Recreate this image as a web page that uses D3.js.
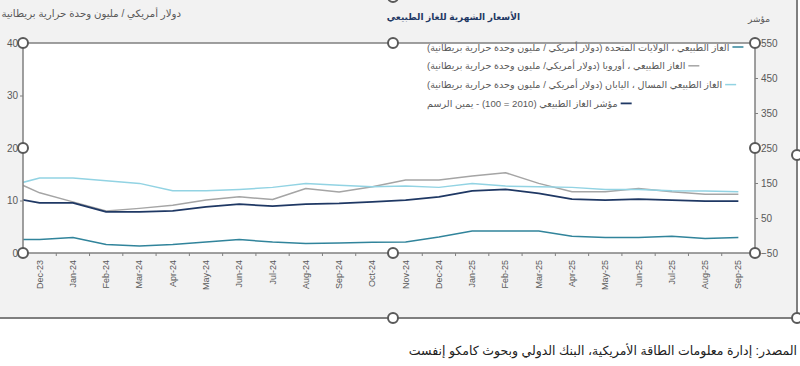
<!DOCTYPE html>
<html>
<head>
<meta charset="utf-8">
<script src="https://cdn.jsdelivr.net/npm/d3@7"></script>
<style>
  body { margin: 0; background: #fff; }
  svg { display: block; font-family: "Liberation Sans", "DejaVu Sans", sans-serif; }
</style>
</head>
<body>
<svg id="chart" width="800" height="366"></svg>
<script>
// Nov-23 only gives the line its lead-in at the left edge (label hidden, clipped)
const months = ["Nov-23", "Dec-23", "Jan-24", "Feb-24", "Mar-24", "Apr-24", "May-24", "Jun-24", "Jul-24",
  "Aug-24", "Sep-24", "Oct-24", "Nov-24", "Dec-24", "Jan-25", "Feb-25", "Mar-25", "Apr-25",
  "May-25", "Jun-25", "Jul-25", "Aug-25", "Sep-25"];
const tickLabels = months.slice(1);

const usGas = [2.56, 2.56, 2.94, 1.6, 1.34, 1.6, 2.1, 2.56, 2.1, 1.8, 1.9, 2.04, 2.1, 3.06, 4.2, 4.2, 4.2, 3.19, 2.94, 2.94, 3.19, 2.75, 2.94];
const europeGas = [14.3, 11.46, 9.74, 8.0, 8.5, 9.1, 10.1, 10.7, 10.2, 12.3, 11.6, 12.6, 13.9, 13.9, 14.65, 15.3, 13.26, 11.65, 11.65, 12.3, 11.65, 11.2, 11.2];
const japanLng = [12.6, 14.3, 14.3, 13.75, 13.26, 11.84, 11.84, 12.1, 12.5, 13.26, 12.9, 12.6, 12.74, 12.5, 13.26, 12.74, 12.6, 12.5, 12.1, 12.1, 11.84, 11.8, 11.65];
const gasIndex = [110.5, 93.3, 93.3, 67.5, 67.5, 70.3, 81.8, 89.5, 83.8, 89.5, 91.5, 96.1, 101, 110.5, 127.7, 131.7, 120.2, 103.9, 101, 103.9, 101, 98.1, 98.1];

const leftTicks = [0, 10, 20, 30, 40];
const rightTicks = [-50, 50, 150, 250, 350, 450, 550];

const seriesNames = [
  "الغاز الطبيعي ، الولايات المتحدة (دولار أمريكي  / مليون وحدة حرارية بريطانية)",
  "الغاز الطبيعي ، أوروبا (دولار أمريكي/ مليون وحدة حرارية بريطانية)",
  "الغاز الطبيعي المسال ، اليابان (دولار أمريكي / مليون وحدة حرارية بريطانية)",
  "مؤشر الغاز الطبيعي (2010 = 100) - يمين الرسم"
];

const title = "الأسعار الشهرية للغاز الطبيعي";
const leftTitle = "دولار أمريكي / مليون وحدة حرارية بريطانية";
const rightTitle = "مؤشر";
const source = "المصدر: إدارة معلومات الطاقة الأمريكية، البنك الدولي وبحوث كامكو إنفست";

// ---- layout
const plot = { left: 23, right: 755, top: 43, bottom: 253 };
const step = (plot.right - plot.left) / tickLabels.length;
const axisColor = "#808080";
const textColor = "#595959";

const svg = d3.select("#chart");

// chart area (grey) + its border
svg.append("rect").attr("x", 0).attr("y", 0).attr("width", 797).attr("height", 318).attr("fill", "#f2f2f2");
svg.append("line").attr("x1", 0).attr("x2", 797).attr("y1", 318).attr("y2", 318)
  .attr("stroke", "#7f7f7f").attr("stroke-width", 2);
svg.append("line").attr("x1", 797).attr("x2", 797).attr("y1", 0).attr("y2", 318)
  .attr("stroke", "#7f7f7f").attr("stroke-width", 2);

// plot area
svg.append("rect").attr("x", plot.left).attr("y", plot.top)
  .attr("width", plot.right - plot.left).attr("height", plot.bottom - plot.top)
  .attr("fill", "#fff");

svg.append("clipPath").attr("id", "plotClip").append("rect")
  .attr("x", plot.left).attr("y", plot.top)
  .attr("width", plot.right - plot.left).attr("height", plot.bottom - plot.top);

// scales
const x = d3.scaleBand().domain(months).range([plot.left - step, plot.right]);
const cx = m => x(m) + x.bandwidth() / 2;
const yL = d3.scaleLinear().domain([0, 40]).range([plot.bottom, plot.top]);
const yR = d3.scaleLinear().domain([-50, 550]).range([plot.bottom, plot.top]);

// lines
const series = [
  { values: usGas, color: "#31849b", width: 1.5, y: yL },
  { values: europeGas, color: "#a5a5a5", width: 1.5, y: yL },
  { values: japanLng, color: "#92d3e3", width: 1.5, y: yL },
  { values: gasIndex, color: "#1f3864", width: 1.8, y: yR }
];

const linesG = svg.append("g").attr("clip-path", "url(#plotClip)");
series.forEach(s => {
  const line = d3.line().x((d, i) => cx(months[i])).y(d => s.y(d));
  linesG.append("path").datum(s.values)
    .attr("d", line)
    .attr("fill", "none")
    .attr("stroke", s.color)
    .attr("stroke-width", s.width)
    .attr("stroke-linejoin", "round");
});

// plot border
svg.append("rect").attr("x", plot.left).attr("y", plot.top)
  .attr("width", plot.right - plot.left).attr("height", plot.bottom - plot.top)
  .attr("fill", "none").attr("stroke", axisColor).attr("stroke-width", 1.5);

// left axis
const leftAxis = svg.append("g").attr("transform", `translate(${plot.left},0)`)
  .call(d3.axisLeft(yL).tickValues(leftTicks).tickSize(3).tickPadding(2));
leftAxis.select(".domain").remove();
leftAxis.selectAll("line").attr("stroke", axisColor);
leftAxis.selectAll("text").attr("fill", textColor).style("font-size", "10px")
  .style("font-family", "Liberation Sans, Arial, sans-serif");

// right axis
const rightAxis = svg.append("g").attr("transform", `translate(${plot.right},0)`)
  .call(d3.axisRight(yR).tickValues(rightTicks).tickSize(3).tickPadding(3));
rightAxis.select(".domain").remove();
rightAxis.selectAll("line").attr("stroke", axisColor);
rightAxis.selectAll("text").attr("fill", textColor).style("font-size", "10px")
  .style("font-family", "Liberation Sans, Arial, sans-serif");

// bottom ticks between categories
svg.append("g").selectAll("line").data(tickLabels.concat([null]))
  .join("line")
  .attr("x1", d => d ? x(d) : plot.right).attr("x2", d => d ? x(d) : plot.right)
  .attr("y1", plot.bottom).attr("y2", plot.bottom + 3)
  .attr("stroke", axisColor);

// bottom labels (rotated)
svg.append("g").selectAll("text").data(tickLabels)
  .join("text")
  .attr("transform", d => `translate(${cx(d) + 3},${plot.bottom + 7}) rotate(-90)`)
  .attr("text-anchor", "end")
  .attr("fill", textColor)
  .style("font-size", "9px")
  .text(d => d);

// legend: entries left-aligned, marker to the right of each text
const legend = svg.append("g");
const legendLeft = 427;
seriesNames.forEach((name, i) => {
  const yy = 47 + i * 18.8;
  const t = legend.append("text").attr("x", legendLeft).attr("y", yy + 3.5)
    .attr("direction", "rtl").attr("text-anchor", "end")
    .attr("fill", textColor).style("font-size", "9.6px")
    .text(name);
  const w = t.node().getComputedTextLength();
  const x0 = legendLeft + w + 3;
  legend.append("line").attr("x1", x0).attr("x2", Math.min(x0 + 11, plot.right - 1)).attr("y1", yy).attr("y2", yy)
    .attr("stroke", series[i].color).attr("stroke-width", series[i].width);
});

// titles
svg.append("text").attr("x", 520).attr("y", 20)
  .attr("direction", "rtl").attr("text-anchor", "start")
  .attr("fill", "#1f3864").style("font-size", "9px").style("font-weight", "bold")
  .text(title);
svg.append("text").attr("x", 181).attr("y", 17)
  .attr("direction", "rtl").attr("text-anchor", "start")
  .attr("fill", textColor).style("font-size", "10.2px")
  .text(leftTitle);
svg.append("text").attr("x", 770).attr("y", 22)
  .attr("direction", "rtl").attr("text-anchor", "start")
  .attr("fill", textColor).style("font-size", "9px")
  .text(rightTitle);
svg.append("text").attr("x", 797).attr("y", 355)
  .attr("direction", "rtl").attr("text-anchor", "start")
  .attr("fill", "#222").style("font-size", "12.5px")
  .text(source);

// selection handles
const handles = [
  [plot.left, plot.top], [393, plot.top], [plot.right, plot.top],
  [plot.left, 148], [plot.right, 148],
  [plot.left, plot.bottom], [393, plot.bottom], [plot.right, plot.bottom],
  [393, -3], [797, 155], [393, 318], [797, 318]
];
svg.append("g").selectAll("circle").data(handles)
  .join("circle")
  .attr("cx", d => d[0]).attr("cy", d => d[1]).attr("r", 5)
  .attr("fill", "#fff").attr("stroke", "#595959").attr("stroke-width", 2);
</script>
</body>
</html>
